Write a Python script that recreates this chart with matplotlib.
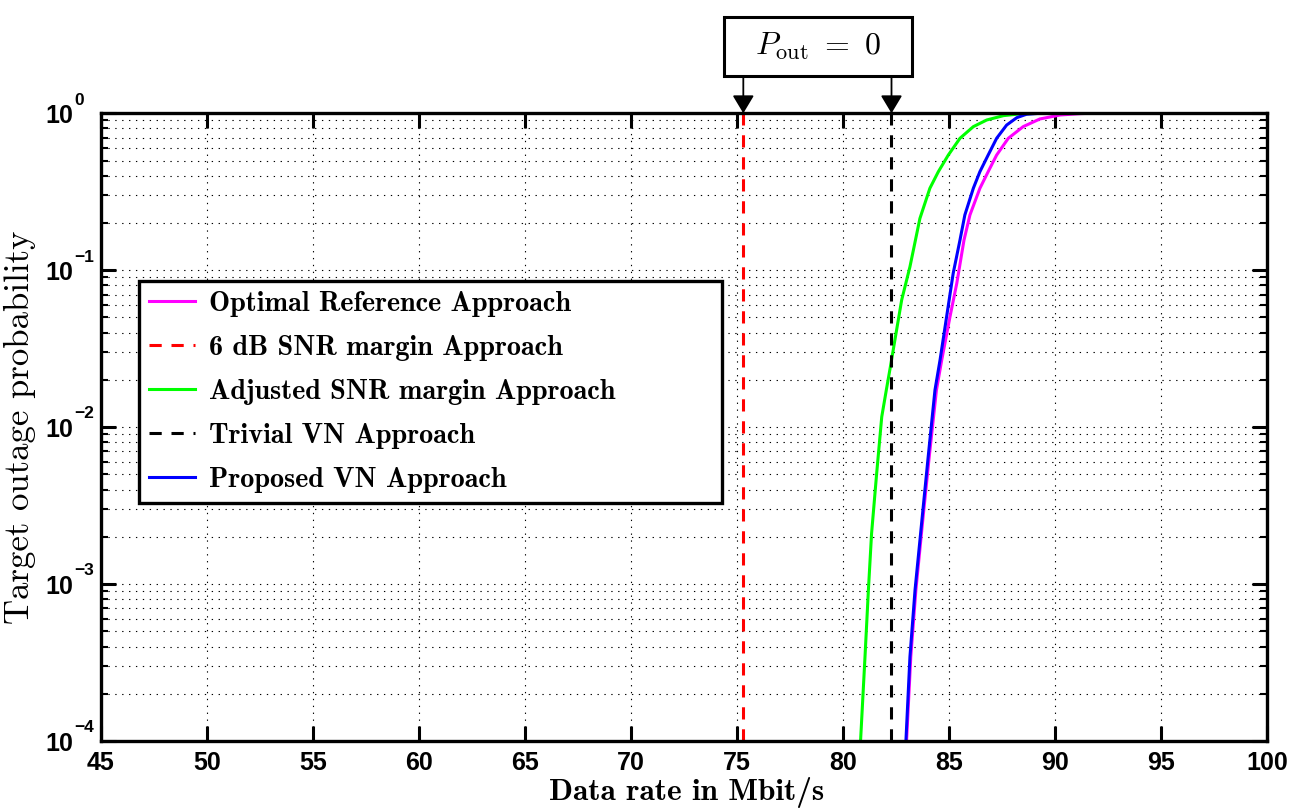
import numpy as np
import matplotlib
matplotlib.use("Agg")
import matplotlib.pyplot as plt
from matplotlib.patches import Rectangle
from matplotlib.ticker import FixedLocator, FuncFormatter, LogLocator, NullFormatter

# ---------------- data ----------------
x_ticks = [45, 50, 55, 60, 65, 70, 75, 80, 85, 90, 95, 100]
y_ticks = [1e-4, 1e-3, 1e-2, 1e-1, 1e0]

labels = ["Optimal Reference Approach",
          "6 dB SNR margin Approach",
          "Adjusted SNR margin Approach",
          "Trivial VN Approach",
          "Proposed VN Approach"]

optimal_rate = [83.00, 83.20, 83.44, 83.75, 84.07, 84.41, 84.66, 85.05, 85.37, 85.71,
                85.99, 86.46, 86.85, 87.25, 87.80, 88.50, 89.29, 90.24, 91.20, 91.70]
optimal_prob = [1e-4, 3.44e-4, 9.16e-4, 2.44e-3, 6.47e-3, 1.722e-2, 2.68e-2, 5.06e-2, 8.26e-2, 0.1556,
                0.2249, 0.3327, 0.4246, 0.542, 0.693, 0.822, 0.920, 0.975, 0.995, 1.0]

snr6_rate = [75.3, 75.3]
snr6_prob = [1e-4, 1.0]

adjusted_rate = [80.83, 81.04, 81.20, 81.35, 81.59, 81.83, 82.05, 82.25, 82.45, 82.77,
                 83.16, 83.63, 84.10, 84.50, 84.97, 85.52, 86.15, 86.78, 87.57, 88.35, 89.30]
adjusted_prob = [1e-4, 3.44e-4, 9.16e-4, 2.10e-3, 5.07e-3, 1.164e-2, 1.738e-2, 2.48e-2, 3.59e-2, 6.46e-2,
                 0.1052, 0.2138, 0.3327, 0.4246, 0.542, 0.693, 0.822, 0.906, 0.966, 0.991, 1.0]

trivial_rate = [82.29, 82.29]
trivial_prob = [1e-4, 1.0]

proposed_rate = [82.97, 83.16, 83.40, 83.71, 84.02, 84.34, 84.58, 84.89, 85.20, 85.52,
                 85.75, 86.15, 86.46, 86.85, 87.25, 87.72, 88.20, 88.66, 89.30]
proposed_prob = [1e-4, 3.44e-4, 9.16e-4, 2.44e-3, 6.47e-3, 1.722e-2, 2.68e-2, 5.06e-2, 9.55e-2, 0.1556,
                 0.2249, 0.3327, 0.4246, 0.542, 0.693, 0.841, 0.938, 0.986, 1.0]

annot_text = r"$P_{\rm out}\ =\ 0$"

# ---------------- figure ----------------
fig = plt.figure(figsize=(13.06, 8.08), dpi=100)
ax = fig.add_axes([0.0773, 0.0829, 0.8928, 0.7769])

lw = 2.2
dash = (0, (4, 3.2))
ax.plot(optimal_rate, optimal_prob, color="#ff00ff", lw=lw, label=labels[0])
ax.plot(snr6_rate, snr6_prob, color="#ff0000", lw=lw, ls=dash, label=labels[1])
ax.plot(adjusted_rate, adjusted_prob, color="#00ff00", lw=lw, label=labels[2])
ax.plot(trivial_rate, trivial_prob, color="black", lw=lw, ls=dash, label=labels[3])
ax.plot(proposed_rate, proposed_prob, color="#0000ff", lw=lw, label=labels[4])

ax.set_yscale("log")
ax.set_xlim(45, 100)
ax.set_ylim(1e-4, 1)

ax.xaxis.set_major_locator(FixedLocator(x_ticks))
ax.yaxis.set_major_locator(FixedLocator(y_ticks))
ax.yaxis.set_minor_locator(LogLocator(base=10, subs=np.arange(2, 10), numticks=20))
ax.yaxis.set_minor_formatter(NullFormatter())
ax.yaxis.set_major_formatter(FuncFormatter(lambda v, p: "10"))

ax.tick_params(axis="x", labelsize=18, pad=7)
ax.tick_params(axis="y", labelsize=18, pad=20)
ax.tick_params(which="both", direction="in", top=True, right=True, color="black")
ax.tick_params(which="major", length=11, width=2.2)
ax.tick_params(which="minor", length=5, width=1.5)
for lab in ax.get_xticklabels() + ax.get_yticklabels():
    lab.set_fontfamily("Liberation Sans")
    lab.set_fontweight("bold")

# exponents of the y tick labels
for v in y_ticks:
    e = int(round(np.log10(v)))
    ax.annotate(str(e).replace("-", "\u2212"), xy=(0, v), xycoords=ax.get_yaxis_transform(),
                xytext=(-19, 9.5), textcoords="offset points", ha="left", va="center",
                fontsize=12.5, fontweight="bold", fontfamily="Liberation Sans",
                annotation_clip=False)

for sp in ax.spines.values():
    sp.set_linewidth(2.4)
    sp.set_color("black")

grid_ls = (0, (1.2, 5.0))
ax.grid(True, which="major", axis="both", color="black", lw=0.8, ls=grid_ls)
ax.grid(True, which="minor", axis="y", color="black", lw=0.8, ls=grid_ls)
ax.set_axisbelow(True)

ax.set_xlabel("Data rate in Mbit/s", fontfamily="cmb10", fontsize=22.5)
ax.xaxis.label.set_verticalalignment("baseline")
ax.xaxis.set_label_coords(0.502, -0.0945)
ax.set_ylabel("Target outage probability", fontfamily="cmr10", fontsize=25)
ax.yaxis.set_label_coords(-0.0557, 0.5)

leg = ax.legend(loc="upper left", bbox_to_anchor=(0.0326, 0.3855, 0.5, 0.3473),
                mode="expand", borderaxespad=0, fancybox=False, framealpha=1,
                edgecolor="black", prop={"family": "cmb10", "size": 20.3},
                handlelength=1.65, handletextpad=0.47, labelspacing=0.64,
                borderpad=0.35)
leg.get_frame().set_linewidth(2.4)

# annotation box
fig.patches.append(Rectangle((0.5544, 0.9059), 0.144, 0.073, transform=fig.transFigure,
                             facecolor="white", edgecolor="black", lw=2.2))
fig.text(0.6263, 0.9431, annot_text, fontsize=23, ha="center", va="center",
         math_fontfamily="cm")
for xr in (snr6_rate[0], trivial_rate[0]):
    ax.annotate("", xy=(xr, 1.0), xycoords="data",
                xytext=(xr, 0.9059), textcoords=("data", "figure fraction"),
                arrowprops=dict(arrowstyle="-|>,head_length=0.5,head_width=0.3",
                                color="black", lw=1.3, shrinkA=0, shrinkB=0,
                                mutation_scale=22),
                annotation_clip=False)

fig.savefig("out.png", dpi=100)
